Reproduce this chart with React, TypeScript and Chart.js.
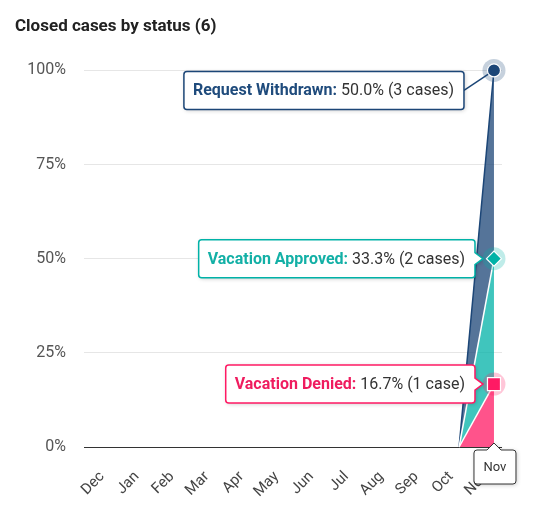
import React, { useEffect, useRef } from 'react';
import Chart from 'chart.js/auto';

const months = ['Dec', 'Jan', 'Feb', 'Mar', 'Apr', 'May', 'Jun', 'Jul', 'Aug', 'Sep', 'Oct', 'Nov'];
const deniedPct = [0, 0, 0, 0, 0, 0, 0, 0, 0, 0, 0, 16.7];
const approvedPct = [0, 0, 0, 0, 0, 0, 0, 0, 0, 0, 0, 33.3];
const withdrawnPct = [0, 0, 0, 0, 0, 0, 0, 0, 0, 0, 0, 50.0];
const seriesNames = ['Vacation Denied', 'Vacation Approved', 'Request Withdrawn'];
const caseCounts = [1, 2, 3];
const yTicks = [0, 25, 50, 75, 100];
const totalCases = 6;

const lineColors = ['#ff1a64', '#00b2a7', '#1c4677'];
const fillColors = ['rgba(255, 26, 100, 0.75)', 'rgba(0, 178, 167, 0.75)', 'rgba(28, 70, 119, 0.75)'];
const haloColors = ['rgba(255, 26, 100, 0.25)', 'rgba(0, 178, 167, 0.25)', 'rgba(28, 70, 119, 0.25)'];
const labelColors = ['#ef1c5f', '#13b0a6', '#1f4b7c'];

const toXY = (vals: number[]) => vals.map((y, x) => ({ x, y }));

// rounded box with an optional little arrow on the right or top side
function boxPath(ctx: CanvasRenderingContext2D, x: number, y: number, w: number, h: number, r: number,
    arrow?: { side: 'right' | 'top'; at: number; size: number }) {
    ctx.beginPath();
    ctx.moveTo(x + r, y);
    if (arrow && arrow.side === 'top') {
        ctx.lineTo(arrow.at - arrow.size, y);
        ctx.lineTo(arrow.at, y - arrow.size);
        ctx.lineTo(arrow.at + arrow.size, y);
    }
    ctx.lineTo(x + w - r, y);
    ctx.arcTo(x + w, y, x + w, y + r, r);
    if (arrow && arrow.side === 'right') {
        ctx.lineTo(x + w, arrow.at - arrow.size);
        ctx.lineTo(x + w + arrow.size + 2, arrow.at);
        ctx.lineTo(x + w, arrow.at + arrow.size);
    }
    ctx.lineTo(x + w, y + h - r);
    ctx.arcTo(x + w, y + h, x + w - r, y + h, r);
    ctx.lineTo(x + r, y + h);
    ctx.arcTo(x, y + h, x, y + h - r, r);
    ctx.lineTo(x, y + r);
    ctx.arcTo(x, y, x + r, y, r);
    ctx.closePath();
}

function fillWithShadow(ctx: CanvasRenderingContext2D, stroke: string, lw: number) {
    ctx.save();
    ctx.shadowColor = 'rgba(0, 0, 0, 0.22)';
    ctx.shadowBlur = 4;
    ctx.shadowOffsetX = 1;
    ctx.shadowOffsetY = 1;
    ctx.fillStyle = '#ffffff';
    ctx.fill();
    ctx.restore();
    ctx.strokeStyle = stroke;
    ctx.lineWidth = lw;
    ctx.stroke();
}

const TIP_FONT = 16;

const overlayPlugin = {
    id: 'overlay',
    afterDraw(chart: any) {
        const ctx: CanvasRenderingContext2D = chart.ctx;
        const area = chart.chartArea;
        const last = months.length - 1;
        const pts = chart.data.datasets.map((_: any, i: number) => chart.getDatasetMeta(i).data[last]);
        const values = [deniedPct, approvedPct, withdrawnPct];

        ctx.save();
        // tooltips
        pts.forEach((p: any, i: number) => {
            const label = seriesNames[i] + ':';
            const n = caseCounts[i];
            const value = ' ' + values[i][last].toFixed(1) + '% (' + n + (n === 1 ? ' case)' : ' cases)');
            ctx.font = 'bold ' + TIP_FONT + 'px Roboto';
            const lw = ctx.measureText(label).width;
            ctx.font = TIP_FONT + 'px Roboto';
            const vw = ctx.measureText(value).width;
            const h = 38;
            const w = 9 + lw + vw + 10;
            const clipped = p.y - h / 2 < area.top;
            const right = clipped ? p.x - 30 : p.x - 19;
            const top = clipped ? area.top + 1 : p.y - h / 2;
            const left = right - w;
            const cy = top + h / 2;
            if (clipped) {
                ctx.beginPath();
                ctx.moveTo(right, cy);
                ctx.lineTo(p.x, p.y);
                ctx.strokeStyle = lineColors[i];
                ctx.lineWidth = 1.5;
                ctx.stroke();
                boxPath(ctx, left, top, w, h, 3);
            } else {
                boxPath(ctx, left, top, w, h, 3, { side: 'right', at: cy, size: 6 });
            }
            fillWithShadow(ctx, lineColors[i], 1.5);
            ctx.textBaseline = 'middle';
            ctx.textAlign = 'left';
            ctx.font = 'bold ' + TIP_FONT + 'px Roboto';
            ctx.fillStyle = labelColors[i];
            ctx.fillText(label, left + 9, cy + 1);
            ctx.font = TIP_FONT + 'px Roboto';
            ctx.fillStyle = '#333333';
            ctx.fillText(value, left + 9 + lw, cy + 1);
        });

        // hover markers with halos
        pts.forEach((p: any, i: number) => {
            ctx.beginPath();
            ctx.arc(p.x, p.y, 11.5, 0, Math.PI * 2);
            ctx.fillStyle = haloColors[i];
            ctx.fill();
            ctx.beginPath();
            if (i === 2) {
                ctx.arc(p.x, p.y, 6.5, 0, Math.PI * 2);
            } else if (i === 1) {
                ctx.moveTo(p.x, p.y - 7.5);
                ctx.lineTo(p.x + 7.5, p.y);
                ctx.lineTo(p.x, p.y + 7.5);
                ctx.lineTo(p.x - 7.5, p.y);
                ctx.closePath();
            } else {
                ctx.rect(p.x - 6.5, p.y - 6.5, 13, 13);
            }
            ctx.fillStyle = lineColors[i];
            ctx.fill();
            ctx.strokeStyle = '#ffffff';
            ctx.lineWidth = 1.2;
            ctx.stroke();
        });

        // category label box under the axis
        const px = pts[0].x;
        const bw = 42;
        const bh = 34;
        const bx = px - bw / 2 + 1;
        const by = area.bottom + 3;
        boxPath(ctx, bx, by, bw, bh, 3, { side: 'top', at: px, size: 7 });
        fillWithShadow(ctx, '#333333', 1);
        ctx.font = '13px Roboto';
        ctx.fillStyle = '#333333';
        ctx.textAlign = 'center';
        ctx.textBaseline = 'middle';
        ctx.fillText(months[last], bx + bw / 2, by + bh / 2 + 1);
        ctx.restore();
    },
};

const App: React.FC = () => {
    const canvasRef = useRef<HTMLCanvasElement | null>(null);
    const chartRef = useRef<Chart | null>(null);

    useEffect(() => {
        document.body.style.margin = '0';
        if (!canvasRef.current) return;
        if (chartRef.current) chartRef.current.destroy();

        const zeroSeg = (c: any) => (c.p0.parsed.y === 0 && c.p1.parsed.y === 0 ? 'rgba(0,0,0,0)' : undefined);
        const series = [deniedPct, approvedPct, withdrawnPct];

        chartRef.current = new Chart(canvasRef.current, {
            type: 'line',
            data: {
                datasets: series.map((vals, i) => ({
                    label: seriesNames[i],
                    data: toXY(vals),
                    fill: i === 0 ? 'origin' : '-1',
                    backgroundColor: fillColors[i],
                    borderColor: i === 2 ? lineColors[2] : '#ffffff',
                    borderWidth: 1.5,
                    pointRadius: 0,
                    tension: 0,
                    clip: 8,
                    segment: { borderColor: zeroSeg },
                })),
            },
            options: {
                animation: false,
                responsive: true,
                maintainAspectRatio: false,
                events: [],
                layout: { padding: { left: 15, right: 32, top: 0, bottom: 0 } },
                plugins: {
                    legend: { display: false },
                    tooltip: { enabled: false },
                    title: {
                        display: true,
                        text: 'Closed cases by status (' + totalCases + ')',
                        align: 'start',
                        color: '#222222',
                        font: { family: 'Roboto', size: 17, weight: 'bold' },
                        padding: { top: 17, bottom: 33 },
                    },
                },
                scales: {
                    x: {
                        type: 'linear',
                        min: -0.75,
                        max: 11.23,
                        grid: { display: false },
                        border: { display: false },
                        afterBuildTicks: (s: any) => {
                            s.ticks = months.map((_, i) => ({ value: i }));
                        },
                        afterFit: (s: any) => {
                            s.height = 72;
                        },
                        ticks: {
                            autoSkip: false,
                            minRotation: 45,
                            maxRotation: 45,
                            padding: 13,
                            labelOffset: -8,
                            color: '#444444',
                            font: { family: 'Roboto', size: 15 },
                            callback: (v: any) => months[v] ?? '',
                        },
                    },
                    y: {
                        stacked: true,
                        min: 0,
                        max: 100,
                        afterBuildTicks: (s: any) => {
                            s.ticks = yTicks.map((v) => ({ value: v }));
                        },
                        afterFit: (s: any) => {
                            s.width = 69;
                        },
                        border: { display: false },
                        grid: {
                            drawTicks: false,
                            color: (c: any) => (c.tick && c.tick.value === 0 ? '#333333' : '#e6e6e6'),
                        },
                        ticks: {
                            padding: 18,
                            color: '#555555',
                            font: { family: 'Roboto', size: 16 },
                            callback: (v: any) => v + '%',
                        },
                    },
                },
            },
            plugins: [overlayPlugin],
        });

        return () => {
            if (chartRef.current) {
                chartRef.current.destroy();
                chartRef.current = null;
            }
        };
    }, []);

    return (
        <div style={{ width: 534, height: 519, position: 'relative' }}>
            <canvas ref={canvasRef}></canvas>
        </div>
    );
};

export default App;
